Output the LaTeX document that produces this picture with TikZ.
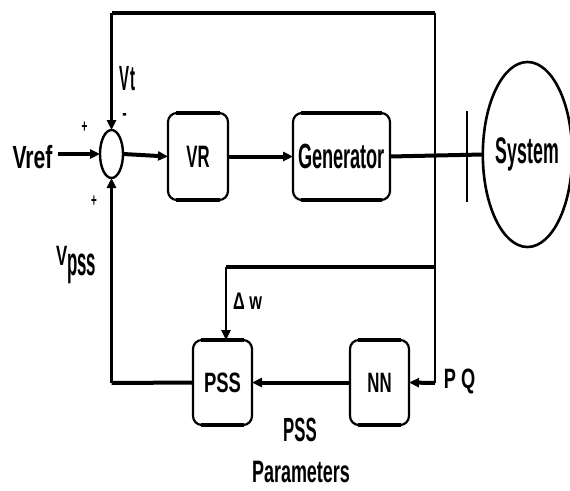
\documentclass[tikz,border=0pt]{standalone}
\usepackage{fontspec}
\setmainfont{Liberation Sans}
\usetikzlibrary{arrows.meta,shapes.geometric}
\newcommand\sqz[3]{\scalebox{#1}[1]{\fontsize{#2}{#2}\selectfont\bfseries #3}}
\newcommand\thickedges[1]{%
  \draw[line width=4pt] ([xshift=8pt]#1.north west) -- ([xshift=-8pt]#1.north east);
  \draw[line width=4pt] ([xshift=8pt]#1.south west) -- ([xshift=-8pt]#1.south east);}
\begin{document}
\begin{tikzpicture}[x=1pt,y=-1pt,
  blk/.style={draw,rounded corners=9pt,line width=2.2pt,inner sep=0pt,outer sep=0pt},
  hln/.style={line width=4pt},
  vln/.style={line width=2.6pt},
  arr/.style={-{Triangle[length=10pt,width=9pt]}},
  lbl/.style={inner sep=0pt,outer sep=0pt,anchor=base}]
\useasboundingbox[fill=white] (0,0) rectangle (570,490);
% blocks
\node[draw,ellipse,line width=2.4pt,minimum width=23pt,minimum height=48pt,inner sep=0pt,outer sep=0pt] (sum) at (111.5,154) {};
\node[blk,minimum width=60pt,minimum height=87pt] (vr) at (198,156.5) {\sqz{0.54}{31}{VR}};
\node[blk,minimum width=97pt,minimum height=87pt] (gen) at (341.5,156.5) {\sqz{0.52}{35}{Generator}};
\node[draw,ellipse,line width=2.6pt,minimum width=85pt,minimum height=185pt,inner sep=0pt,outer sep=0pt] (sys) at (527.5,154.5) {\sqz{0.48}{37}{System}};
\node[blk,minimum width=59pt,minimum height=85pt] (pss) at (222.5,382.5) {\sqz{0.66}{28}{PSS}};
\node[blk,minimum width=59pt,minimum height=85pt] (nn) at (379.5,382.5) {\sqz{0.6}{28}{NN}};
\thickedges{vr}
\thickedges{gen}
\thickedges{pss}
\thickedges{nn}
% labels
\node[lbl] (vref) at (32.5,168) {\sqz{0.66}{32}{Vref}};
\node[lbl] (vt) at (127.5,90) {\sqz{0.43}{35}{Vt}};
\node[lbl] (minus) at (124.5,120) {\sqz{0.6}{22}{-}};
\node[lbl] (plus1) at (84.5,132) {\sqz{0.55}{18}{+}};
\node[lbl] (plus2) at (94,206) {\sqz{0.55}{18}{+}};
\node[lbl,anchor=base west] (vpss) at (56,265) {\sqz{0.6}{28}{V}\raisebox{-10pt}{\sqz{0.42}{40}{pss}}};
\node[lbl] (dw) at (247.5,309) {\sqz{0.68}{24}{Δ w}};
\node[lbl] (pq) at (459.5,388) {\sqz{0.65}{28}{P Q}};
\node[lbl] (pssl) at (300,441) {\sqz{0.5}{33.5}{PSS}};
\node[lbl] (parl) at (301,482) {\sqz{0.58}{31}{Parameters}};
% coordinates
\coordinate (vin) at (58,154);
\coordinate (tl) at (111.5,13);
\coordinate (tr) at (435,13);
\coordinate (jw) at (435,267);
\coordinate (jpq) at (435,383);
\coordinate (wl) at (226,267);
\coordinate (bl) at (111.5,383);
\coordinate (b1) at (467,111);
\coordinate (b2) at (467,202);
% connectors
\draw[hln,arr] (vin) -- (sum.west);
\draw[hln,arr] (sum.east) -- (vr.west);
\draw[hln,arr] (vr.east) -- (gen.west);
\draw[hln] (gen.east) -- (sys.west);
\draw[line width=1.4pt] (b1) -- (b2);
\draw[hln] (tr) -- (tl);
\draw[vln,arr] (tl) -- (sum.north);
\draw[vln] (tr) -- (jpq);
\draw[hln] (jw) -- (wl);
\draw[vln,arr] (wl) -- (wl |- pss.north);
\draw[hln,arr] (jpq) -- (nn.east);
\draw[hln,arr] (nn.west) -- (pss.east);
\draw[hln] (pss.west) -- (bl);
\draw[vln,arr] (bl) -- (sum.south);
\end{tikzpicture}
\end{document}
